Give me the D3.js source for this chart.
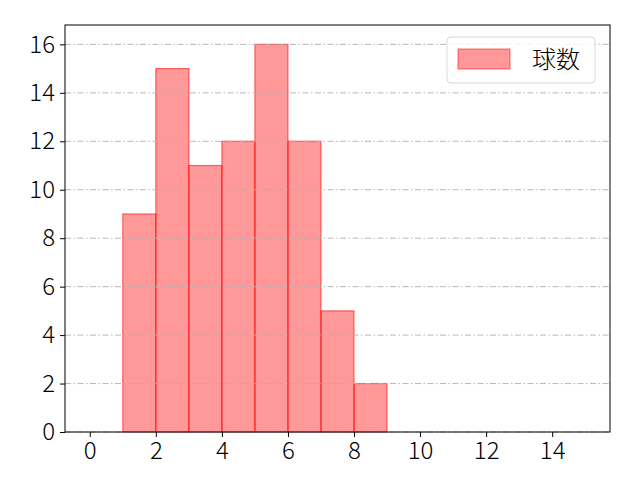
<!DOCTYPE html>
<html>
<head>
<meta charset="utf-8">
<script src="https://cdn.jsdelivr.net/npm/d3@7"></script>
<style>
  body { margin: 0; background: #fff; }
  svg text { font-family: "Noto Sans CJK JP", "DejaVu Sans", sans-serif; }
</style>
</head>
<body>
<svg id="chart"></svg>
<script>
// histogram bins (left edge, right edge) and counts
const binStarts = [1, 2, 3, 4, 5, 6, 7, 8];
const binEnds = [2, 3, 4, 5, 6, 7, 8, 9];
const counts = [9, 15, 11, 12, 16, 12, 5, 2];
const xTicks = [0, 2, 4, 6, 8, 10, 12, 14];
const yTicks = [0, 2, 4, 6, 8, 10, 12, 14, 16];
const seriesName = '球数';

const width = 640, height = 480;
const margin = {top: 25, right: 30, bottom: 48, left: 65};
const innerW = width - margin.left - margin.right;
const innerH = height - margin.top - margin.bottom;

const bins = binStarts.map((s, i) => ({x0: s, x1: binEnds[i], n: counts[i]}));

const svg = d3.select('#chart')
    .attr('width', width)
    .attr('height', height);

const chart = svg.append('g')
    .attr('transform', `translate(${margin.left},${margin.top})`);

const xScale = d3.scaleLinear().domain([-0.75, 15.75]).range([0, innerW]);
const yScale = d3.scaleLinear().domain([0, 16.8]).range([innerH, 0]);

// bars
chart.selectAll('.bar')
    .data(bins)
    .join('rect')
    .attr('class', 'bar')
    .attr('x', d => xScale(d.x0))
    .attr('width', d => xScale(d.x1) - xScale(d.x0))
    .attr('y', d => yScale(d.n))
    .attr('height', d => yScale(0) - yScale(d.n))
    .attr('fill', 'rgba(255,0,0,0.4)')
    .attr('stroke', 'rgba(255,0,0,0.55)')
    .attr('stroke-width', 1.2);

// horizontal grid (dash-dot)
chart.selectAll('.grid')
    .data(yTicks)
    .join('line')
    .attr('class', 'grid')
    .attr('x1', 0)
    .attr('x2', innerW)
    .attr('y1', d => yScale(d))
    .attr('y2', d => yScale(d))
    .attr('stroke', '#b0b0b0')
    .attr('stroke-width', 0.9)
    .attr('stroke-dasharray', '6,2.5,1.5,2.5');

// axes
const xAxis = d3.axisBottom(xScale).tickValues(xTicks).tickSize(5).tickPadding(3);
const yAxis = d3.axisLeft(yScale).tickValues(yTicks).tickSize(5).tickPadding(5);

const xAxisG = chart.append('g')
    .attr('transform', `translate(0,${innerH})`)
    .call(xAxis);
const yAxisG = chart.append('g').call(yAxis);

[xAxisG, yAxisG].forEach(g => {
  g.select('.domain').remove();
  g.selectAll('.tick line').attr('stroke', '#000').attr('stroke-width', 1);
  g.selectAll('.tick text')
      .attr('fill', '#000')
      .style('font-size', '24px')
      .style('font-weight', '300');
});
xAxisG.selectAll('.tick text').attr('dy', '0.78em');

// frame
chart.append('rect')
    .attr('width', innerW)
    .attr('height', innerH)
    .attr('fill', 'none')
    .attr('stroke', '#000')
    .attr('stroke-width', 1);

// legend
const legend = chart.append('g')
    .attr('transform', `translate(${innerW - 163},${12})`);
legend.append('rect')
    .attr('width', 148)
    .attr('height', 46)
    .attr('rx', 4)
    .attr('fill', 'rgba(255,255,255,0.8)')
    .attr('stroke', '#d9d9d9');
legend.append('rect')
    .attr('x', 11)
    .attr('y', 12)
    .attr('width', 52)
    .attr('height', 20)
    .attr('fill', 'rgba(255,0,0,0.4)')
    .attr('stroke', 'rgba(255,0,0,0.55)');
legend.append('text')
    .attr('x', 85)
    .attr('y', 31)
    .attr('fill', '#000')
    .style('font-size', '24px')
    .style('font-weight', '300')
    .text(seriesName);
</script>
</body>
</html>
